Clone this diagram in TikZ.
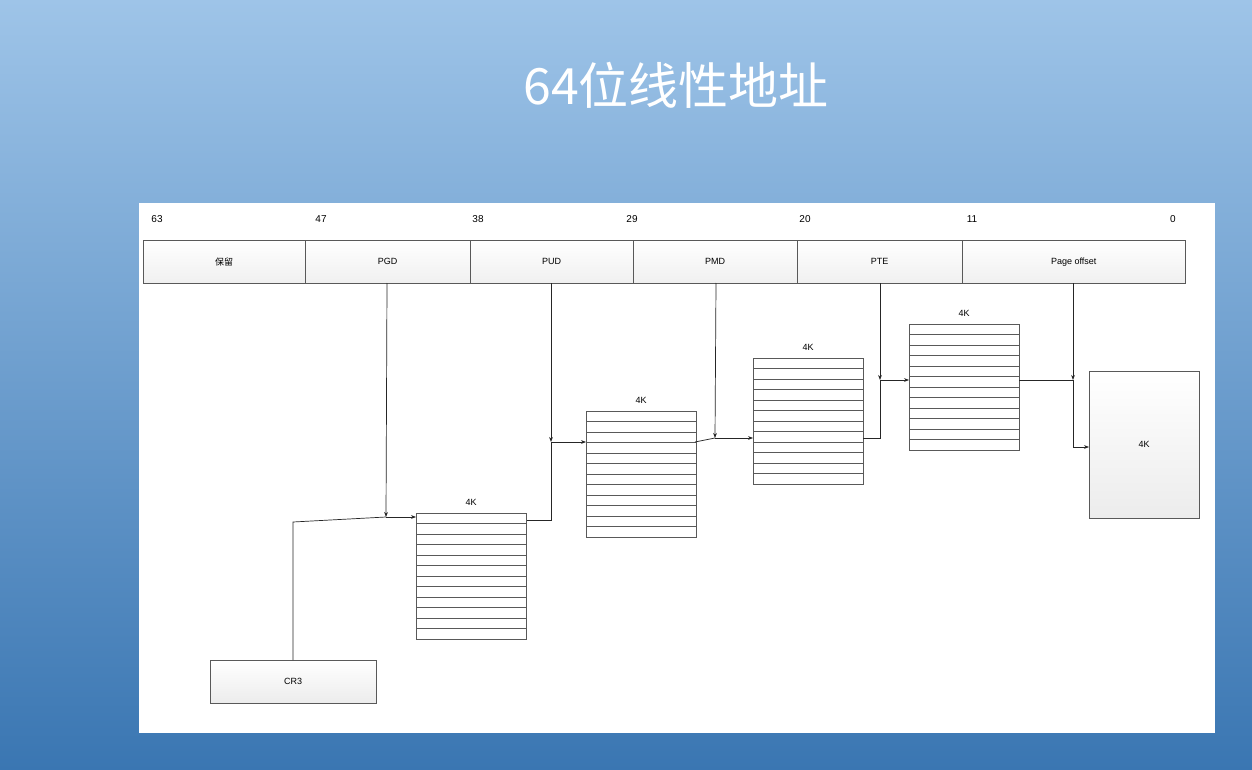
\documentclass[tikz,border=0pt]{standalone}
\usepackage{fontspec}
\setmainfont{Liberation Sans}
\newfontfamily\cjk{Noto Sans CJK SC}
\usetikzlibrary{arrows.meta}
\begin{document}
\begin{tikzpicture}[x=1pt,y=-1pt,
  cell/.style={draw=gray!70!black,fill=gray!6,inner sep=0},
  lbl/.style={font=\fontsize{9}{10}\selectfont},
  arr/.style={draw=gray!30!black,line width=0.7pt,-{Stealth[length=5pt]}},
  ln/.style={draw=gray!30!black,line width=0.7pt}]
\useasboundingbox (0,0) rectangle (1252,770);
\shade[top color={rgb,255:red,158;green,196;blue,232},bottom color={rgb,255:red,58;green,118;blue,178}] (0,0) rectangle (1252,770);
\node[text=white,font=\cjk\fontsize{50}{54}\selectfont] (title) at (676,85) {64位线性地址};
\fill[white] (139,203) rectangle (1215,733);
% header
\foreach \a/\b/\t [count=\i] in {143/305/保留,305/470/PGD,470/633/PUD,633/797/PMD,797/962/PTE,962/1185/Page offset}{
  \node[cell,top color=white,bottom color=gray!12,minimum width={\b-\a},minimum height=43,anchor=north west,lbl] (h\i) at (\a,240) {\ifnum\i=1 \cjk\fi\t};
}
\foreach \x/\t in {157/63,321/47,478/38,632/29,805/20,972/11,1173/0}
  \node[lbl,font=\fontsize{10}{11}\selectfont] (n\t) at (\x,219) {\t};
% tables
\foreach \n/\x/\y in {1/416/513,2/586/411,3/753/358,4/909/324}{
  \draw[gray!70!black,fill=white] (\x,\y) rectangle (\x+110,\y+126);
  \foreach \k in {1,...,11} \draw[gray!70!black] (\x,\y+\k*10.5) -- (\x+110,\y+\k*10.5);
  \coordinate (t\n) at (\x,\y);
  \node[lbl] (l\n) at (\x+55,\y-11) {4K};
}
\node[cell,top color=white,bottom color=gray!15,minimum width=110,minimum height=147,anchor=north west,lbl] (pg) at (1089,371) {4K};
\node[cell,top color=white,bottom color=gray!15,minimum width=166,minimum height=43,anchor=north west,lbl] (cr3) at (210,660) {CR3};
% connectors
\coordinate (a1) at (386,517);
\draw[arr] (387,283) -- (a1);
\draw[ln] (cr3.north -| 293,0) -- (293,522) -- (a1);
\draw[arr] (a1) -- (416,517);
\draw[arr] (551,283) -- (551,442);
\draw[ln] (527,520) -- (551,520) -- (551,442);
\draw[arr] (551,442) -- (586,442);
\draw[arr] (716,283) -- (715,438);
\draw[ln] (695,442) -- (715,438);
\draw[arr] (715,438) -- (753,438);
\draw[arr] (880,283) -- (880,380);
\draw[ln] (863,438) -- (880,438) -- (880,380);
\draw[arr] (880,380) -- (909,380);
\draw[arr] (1073,283) -- (1073,380);
\draw[ln] (1019,380) -- (1073,380) -- (1073,447);
\draw[arr] (1073,447) -- (1089,447);
\end{tikzpicture}
\end{document}
